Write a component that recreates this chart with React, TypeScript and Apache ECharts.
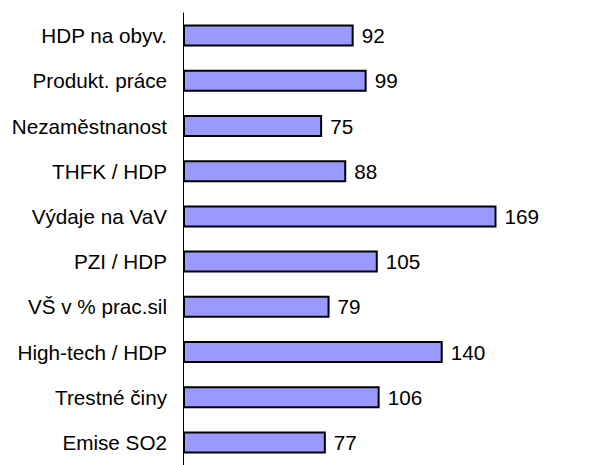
import React, { useEffect, useRef } from "react";
import * as echarts from "echarts";

const categories = [
  "HDP na obyv.",
  "Produkt. práce",
  "Nezaměstnanost",
  "THFK / HDP",
  "Výdaje na VaV",
  "PZI / HDP",
  "VŠ v % prac.sil",
  "High-tech / HDP",
  "Trestné činy",
  "Emise SO2",
];
const values = [92, 99, 75, 88, 169, 105, 79, 140, 106, 77];

export default function App() {
  const ref = useRef<HTMLDivElement>(null);
  useEffect(() => {
    if (!ref.current) return;
    const chart = echarts.init(ref.current, undefined, { renderer: "svg" });
    chart.setOption({
      animation: false,
      grid: { left: 183, top: 13, width: 371, height: 452 },
      xAxis: {
        type: "value",
        min: 0,
        max: 200,
        show: false,
      },
      yAxis: {
        type: "category",
        data: categories,
        inverse: true,
        axisLine: { show: true, lineStyle: { color: "#000", width: 1 } },
        axisTick: { show: false },
        axisLabel: {
          margin: 16,
          color: "#000",
          fontSize: 20.7,
          fontFamily: "Liberation Sans, Arial, sans-serif",
        },
      },
      series: [
        {
          type: "bar",
          data: values,
          barWidth: 22,
          itemStyle: { color: "#9999ff", borderColor: "#000", borderWidth: 2 },
          label: {
            show: true,
            position: "right",
            distance: 8,
            color: "#000",
            fontSize: 20.7,
            fontFamily: "Liberation Sans, Arial, sans-serif",
          },
        },
      ],
    });
    return () => chart.dispose();
  }, []);
  return <div ref={ref} style={{ width: 598, height: 465, position: "absolute", left: 0, top: 0 }} />;
}
